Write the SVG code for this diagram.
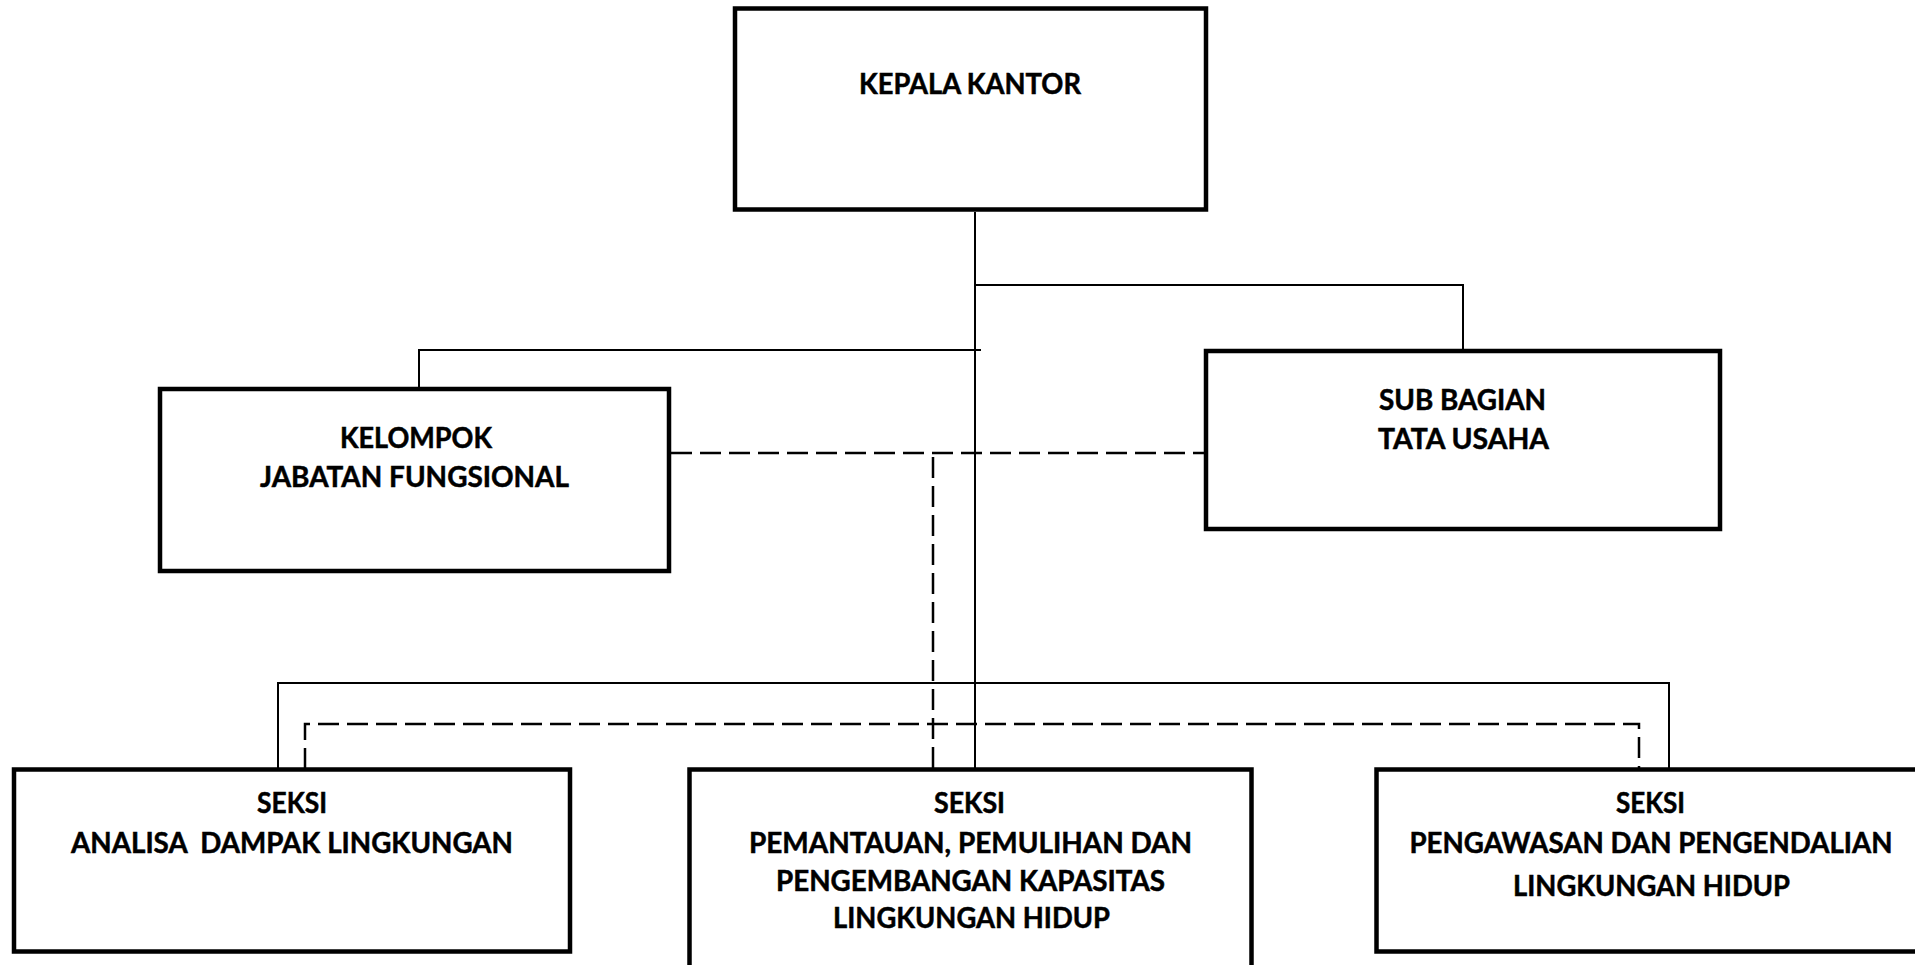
<svg xmlns="http://www.w3.org/2000/svg" width="1915" height="965" viewBox="0 0 1915 965">
<style>
.box{fill:#fff;stroke:#000;stroke-width:4.5}
.ln{fill:none;stroke:#000;stroke-width:2}
.dash{fill:none;stroke:#000;stroke-width:2.5;stroke-dasharray:21 8}
text{font-family:Lato,"Open Sans","Liberation Sans",sans-serif;font-weight:700;font-size:28px;fill:#000;stroke:#000;stroke-width:0.5;text-anchor:middle;white-space:pre}
</style>
<rect width="1915" height="965" fill="#fff"/>
<g id="connectors">
<path class="ln" d="M975 212 V769"/>
<path class="ln" d="M975 285 H1463 V351"/>
<path class="ln" d="M419 389 V350 H981"/>
<path class="ln" d="M278 769 V683 H1669 V769"/>
<path class="dash" d="M671 453 H1204"/>
<path class="dash" d="M933 457 V769"/>
<path class="dash" d="M305 769 V724 H1639 V769"/>
</g>
<g id="kepala-kantor">
<rect class="box" x="735" y="8.5" width="471" height="201"/>
<text x="970" y="94" textLength="222" lengthAdjust="spacingAndGlyphs">KEPALA KANTOR</text>
</g>
<g id="kelompok-jabatan-fungsional">
<rect class="box" x="160" y="389" width="509" height="182"/>
<text x="416" y="448" textLength="152" lengthAdjust="spacingAndGlyphs">KELOMPOK</text>
<text x="414.5" y="487" textLength="309" lengthAdjust="spacingAndGlyphs">JABATAN FUNGSIONAL</text>
</g>
<g id="sub-bagian-tata-usaha">
<rect class="box" x="1206" y="351" width="514" height="178"/>
<text x="1462.5" y="410" textLength="167" lengthAdjust="spacingAndGlyphs">SUB BAGIAN</text>
<text x="1463.5" y="449" textLength="171" lengthAdjust="spacingAndGlyphs">TATA USAHA</text>
</g>
<g id="seksi-analisa">
<rect class="box" x="14" y="769.5" width="556" height="182"/>
<text x="292" y="813" textLength="70" lengthAdjust="spacingAndGlyphs">SEKSI</text>
<text x="292" y="853" textLength="442" lengthAdjust="spacingAndGlyphs" xml:space="preserve">ANALISA  DAMPAK LINGKUNGAN</text>
</g>
<g id="seksi-pemantauan">
<rect class="box" x="689.5" y="769.5" width="562" height="215"/>
<text x="969.5" y="813" textLength="71" lengthAdjust="spacingAndGlyphs">SEKSI</text>
<text x="970.5" y="853" textLength="443" lengthAdjust="spacingAndGlyphs">PEMANTAUAN, PEMULIHAN DAN</text>
<text x="970.5" y="891" textLength="389" lengthAdjust="spacingAndGlyphs">PENGEMBANGAN KAPASITAS</text>
<text x="971.5" y="928" textLength="277" lengthAdjust="spacingAndGlyphs">LINGKUNGAN HIDUP</text>
</g>
<g id="seksi-pengawasan">
<rect class="box" x="1376.5" y="769.5" width="550" height="182"/>
<text x="1650.5" y="813" textLength="69" lengthAdjust="spacingAndGlyphs">SEKSI</text>
<text x="1651" y="853" textLength="483" lengthAdjust="spacingAndGlyphs">PENGAWASAN DAN PENGENDALIAN</text>
<text x="1651.5" y="896" textLength="277" lengthAdjust="spacingAndGlyphs">LINGKUNGAN HIDUP</text>
</g>
</svg>
